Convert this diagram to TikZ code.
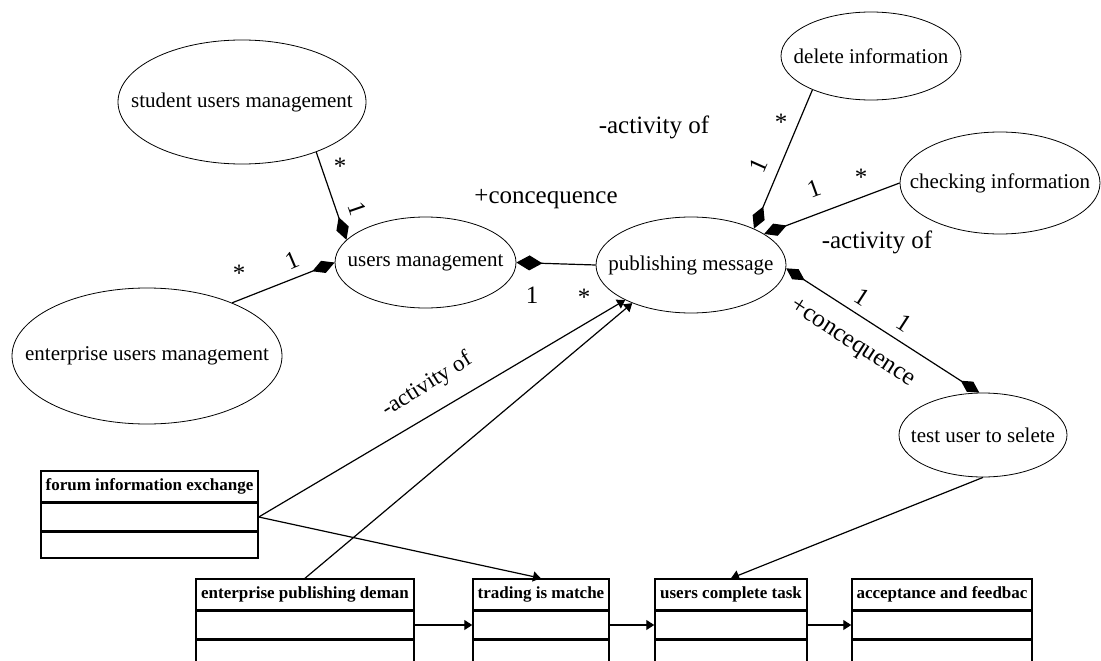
\documentclass[tikz,border=0pt]{standalone}
\usepackage{fontspec}
\setmainfont{Liberation Serif}
\usetikzlibrary{shapes.geometric,arrows.meta}
\newcommand{\zw}[1]{\makebox[0pt]{#1}}
\begin{document}
\begin{tikzpicture}[x=1pt,y=-1pt,
 uc/.style={ellipse,draw,line width=0.8pt,inner sep=0pt,font=\fontsize{21}{24}\selectfont},
 lab/.style={inner sep=0pt,font=\fontsize{25}{28}\selectfont},
 conn/.style={line width=1.2pt},
 dia/.style={-{Diamond[length=24pt,width=13pt]}},
 ttl/.style={rectangle,draw,line width=1.5pt,minimum height=31pt,inner sep=0pt,font=\fontsize{17}{20}\selectfont\bfseries},
 cmp/.style={rectangle,draw,line width=1.5pt,minimum height=27pt,inner sep=0pt,anchor=north},
 flow/.style={line width=1.2pt,-{Triangle[length=8pt,width=10pt]}}
]
\useasboundingbox (0,0) rectangle (1101,661);
\clip (0,0) rectangle (1101,661);

% use-case ellipses
\node[uc,minimum width=248pt,minimum height=124pt] (stud) at (242,102) {\zw{student users management}};
\node[uc,minimum width=181pt,minimum height=91pt] (um) at (425.5,262.5) {\zw{users management}};
\node[uc,minimum width=270pt,minimum height=136pt] (ent) at (147,356) {\zw{enterprise users management}};
\node[uc,minimum width=190pt,minimum height=96pt] (pub) at (691,265) {\zw{publishing message}};
\node[uc,minimum width=180pt,minimum height=88pt] (del) at (871,56) {\zw{delete information}};
\node[uc,minimum width=200pt,minimum height=102pt] (chk) at (1000,183) {\zw{checking information}};
\node[uc,minimum width=168pt,minimum height=84pt] (test) at (983,435) {\zw{test user to selete}};

% class boxes
\node[ttl,minimum width=217pt] (forumT) at (149.5,486.5) {forum information exchange};
\node[cmp,minimum width=217pt] (forumA) at (forumT.south) {};
\node[cmp,minimum width=217pt,minimum height=26pt] (forumB) at (forumA.south) {};

\node[ttl,minimum width=218pt] (entT) at (305,594.5) {enterprise publishing deman};
\node[cmp,minimum width=218pt] (entA) at (entT.south) {};
\node[cmp,minimum width=218pt,minimum height=40pt] (entB) at (entA.south) {};

\node[ttl,minimum width=136pt] (tradT) at (541,594.5) {trading is matche};
\node[cmp,minimum width=136pt] (tradA) at (tradT.south) {};
\node[cmp,minimum width=136pt,minimum height=40pt] (tradB) at (tradA.south) {};

\node[ttl,minimum width=152pt] (uctT) at (731,594.5) {users complete task};
\node[cmp,minimum width=152pt] (uctA) at (uctT.south) {};
\node[cmp,minimum width=152pt,minimum height=40pt] (uctB) at (uctA.south) {};

\node[ttl,minimum width=180pt] (accT) at (942,594.5) {acceptance and feedbac};
\node[cmp,minimum width=180pt] (accA) at (accT.south) {};
\node[cmp,minimum width=180pt,minimum height=40pt] (accB) at (accA.south) {};

% composition connectors
\draw[conn,dia] (stud.-34) -- (um.164);
\draw[conn,dia] (ent.32) -- (um.180);
\draw[conn,{Diamond[length=26pt,width=15pt]}-] (um.east) -- (pub.west);
\draw[conn,dia] (del.210) -- (pub.30);
\draw[conn,dia] (chk.west) -- (pub.23);
\draw[conn,{Diamond[length=22pt,width=12pt]}-{Diamond[length=22pt,width=12pt]}] (pub.-2) -- (test.95);

% flow arrows
\draw[flow] (test.south) -- (uctT.north);
\draw[flow] (forumA.east) -- (tradT.north);
\draw[flow] (forumA.east) -- (pub.208);
\draw[flow] (entT.north) -- (pub.213);
\draw[flow] (entA.east) -- (tradA.west);
\draw[flow] (tradA.east) -- (uctA.west);
\draw[flow] (uctA.east) -- (accA.west);

% labels
\node[lab] (m1) at (340,166) {*};
\node[lab,rotate=-71] (m2) at (357,209) {1};
\node[lab] (m3) at (239,273) {*};
\node[lab,rotate=23] (m4) at (292,260) {1};
\node[lab] (m5) at (532,295) {1};
\node[lab] (m6) at (584,297) {*};
\node[lab] (l1) at (546,199) {+concequence};
\node[lab] (l2) at (654,127) {-activity of};
\node[lab] (m7) at (781,122) {*};
\node[lab,rotate=66] (m8) at (758,165) {1};
\node[lab,rotate=20] (m9) at (814,189) {1};
\node[lab] (m10) at (861,177) {*};
\node[lab] (l3) at (877,242) {-activity of};
\node[lab,rotate=-33] (m11) at (862,297) {1};
\node[lab,rotate=-33] (m12) at (904,323) {1};
\node[lab,rotate=-33] (l4) at (852,344) {+concequence};
\node[lab,rotate=32,font=\fontsize{23}{26}\selectfont] (l5) at (427,385) {-activity of};
\end{tikzpicture}
\end{document}
